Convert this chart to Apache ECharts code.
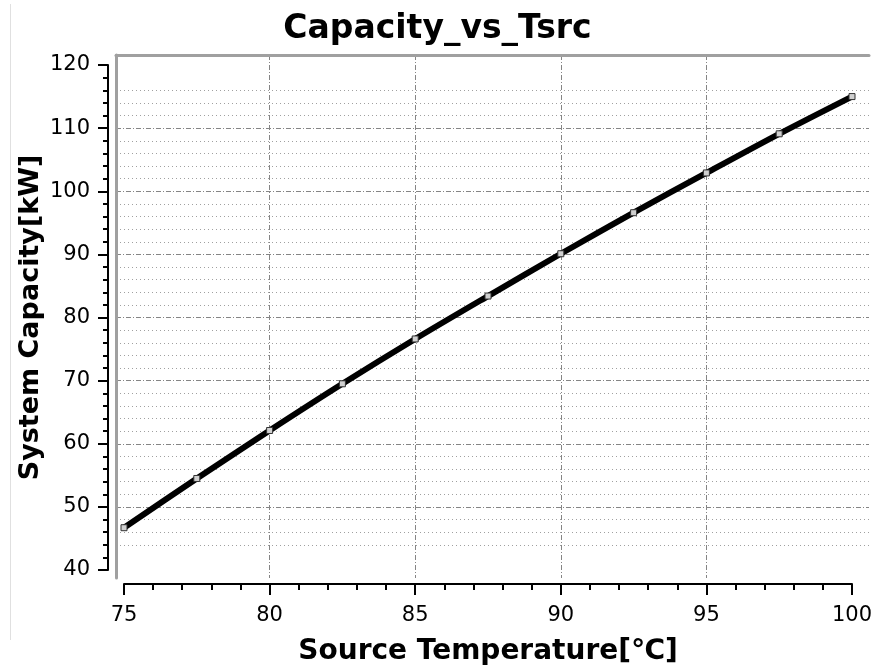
<!DOCTYPE html>
<html>
<head>
<meta charset="utf-8">
<script src="https://cdn.jsdelivr.net/npm/echarts@6/dist/echarts.min.js"></script>
<style>html,body{margin:0;padding:0;background:#fff;}#c{width:875px;height:666px;}</style>
</head>
<body>
<div id="c"></div>
<script>
// ---- data ----
const sourceTemp = [75, 77.5, 80, 82.5, 85, 87.5, 90, 92.5, 95, 97.5, 100];
const capacity = [46.7, 54.5, 62.1, 69.5, 76.6, 83.4, 90.1, 96.6, 102.9, 109.1, 115.0];
const xTicks = [75, 80, 85, 90, 95, 100];
const yTicks = [40, 50, 60, 70, 80, 90, 100, 110, 120];
const titleText = 'Capacity_vs_Tsrc';
const xName = 'Source Temperature[\u2103]';
const yName = 'System Capacity[kW]';
const xRange = [75, 100];
const yRange = [40, 120];
// minor horizontal grid every 2 units (excluding the major lines)
const yMinorTicks = [];
for (let v = yRange[0]; v <= yRange[1]; v += 2) { if (v % 10 !== 0) yMinorTicks.push(v); }

// ---- layout (pixels) ----
const W = 875, H = 666;
const plot = {x0: 124, x1: 852, y0: 65, y1: 570};     // axis value range box
const frame = {x0: 116, x1: 869, y0: 55, y1: 578};    // grid-line box
const pxPerX = (plot.x1 - plot.x0) / (xRange[1] - xRange[0]);
const pxPerY = (plot.y1 - plot.y0) / (yRange[1] - yRange[0]);
const fxMin = xRange[0] - (plot.x0 - frame.x0) / pxPerX;
const fxMax = xRange[1] + (frame.x1 - plot.x1) / pxPerX;
const fyMin = yRange[0] - (frame.y1 - plot.y1) / pxPerY;
const fyMax = yRange[1] + (plot.y0 - frame.y0) / pxPerY;

const FONT = 'DejaVu Sans';
const gridColor = '#858585';
const dotColor = '#a0a0a0';

const chart = echarts.init(document.getElementById('c'), null, {renderer: 'canvas'});
chart.setOption({
  animation: false,
  backgroundColor: '#fff',
  title: {
    text: titleText, left: 'center', top: 8,
    textStyle: {fontFamily: FONT, fontWeight: 'bold', fontSize: 33, color: '#000'}
  },
  graphic: [{
    type: 'line', shape: {x1: 10.5, y1: 4, x2: 10.5, y2: 640},
    style: {stroke: '#e0e0e0', lineWidth: 1}, silent: true
  }],
  grid: [
    {left: frame.x0, right: W - frame.x1, top: frame.y0, bottom: H - frame.y1, outerBoundsMode: 'none', containLabel: false},
    {left: plot.x0, right: W - plot.x1, top: plot.y0, bottom: H - plot.y1, outerBoundsMode: 'none', containLabel: false}
  ],
  xAxis: [
    {
      gridIndex: 0, type: 'value', position: 'top', min: fxMin, max: fxMax,
      axisLine: {show: true, lineStyle: {color: '#a0a0a0', width: 3}},
      axisTick: {show: false, customValues: xTicks}, axisLabel: {show: false},
      splitLine: {show: true, showMinLine: false, showMaxLine: false,
        lineStyle: {color: gridColor, width: 1, type: [5, 2, 1, 2]}}
    },
    {
      gridIndex: 1, type: 'value', position: 'bottom', offset: 14, min: xRange[0], max: xRange[1], interval: 5,
      name: xName, nameLocation: 'middle', nameGap: 54, nameMoveOverlap: false,
      nameTextStyle: {fontFamily: FONT, fontWeight: 'bold', fontSize: 28, color: '#000'},
      axisLine: {show: true, onZero: false, lineStyle: {color: '#000', width: 2}},
      axisTick: {show: true, inside: false, length: 11, lineStyle: {color: '#000', width: 2}},
      minorTick: {show: true, splitNumber: 5, length: 6, lineStyle: {color: '#000', width: 2}},
      axisLabel: {show: true, margin: 21, fontFamily: FONT, fontSize: 21, color: '#000'},
      splitLine: {show: false}
    }
  ],
  yAxis: [
    {
      gridIndex: 0, type: 'value', position: 'left', min: fyMin, max: fyMax,
      axisLine: {show: true, lineStyle: {color: '#a0a0a0', width: 3}},
      axisTick: {show: false, customValues: yTicks}, axisLabel: {show: false},
      splitLine: {show: true, showMinLine: false, showMaxLine: false,
        lineStyle: {color: gridColor, width: 1, type: [5, 2, 1, 2]}}
    },
    {
      gridIndex: 0, type: 'value', position: 'left', min: fyMin, max: fyMax,
      axisLine: {show: false}, axisTick: {show: false, customValues: yMinorTicks}, axisLabel: {show: false},
      splitLine: {show: true, showMinLine: false, showMaxLine: false,
        lineStyle: {color: dotColor, width: 1, type: [1, 3]}}
    },
    {
      gridIndex: 1, type: 'value', position: 'left', offset: 16, min: yRange[0], max: yRange[1], interval: 10,
      name: yName, nameLocation: 'middle', nameGap: 64, nameRotate: 90, nameMoveOverlap: false,
      nameTextStyle: {fontFamily: FONT, fontWeight: 'bold', fontSize: 27, color: '#000'},
      axisLine: {show: true, onZero: false, lineStyle: {color: '#000', width: 2}},
      axisTick: {show: true, inside: false, length: 10, lineStyle: {color: '#000', width: 2}},
      minorTick: {show: true, splitNumber: 5, length: 5, lineStyle: {color: '#000', width: 2}},
      axisLabel: {show: true, margin: 18, fontFamily: FONT, fontSize: 21, color: '#000'},
      splitLine: {show: false}
    }
  ],
  series: [{
    type: 'line', xAxisIndex: 1, yAxisIndex: 2,
    data: sourceTemp.map((t, i) => [t, capacity[i]]),
    smooth: 0.3,
    lineStyle: {color: '#000', width: 6},
    symbol: 'rect', symbolSize: 6, showSymbol: true,
    itemStyle: {color: '#d0d0d0', borderColor: '#333', borderWidth: 1},
    clip: false, z: 5
  }]
});
</script>
</body>
</html>
